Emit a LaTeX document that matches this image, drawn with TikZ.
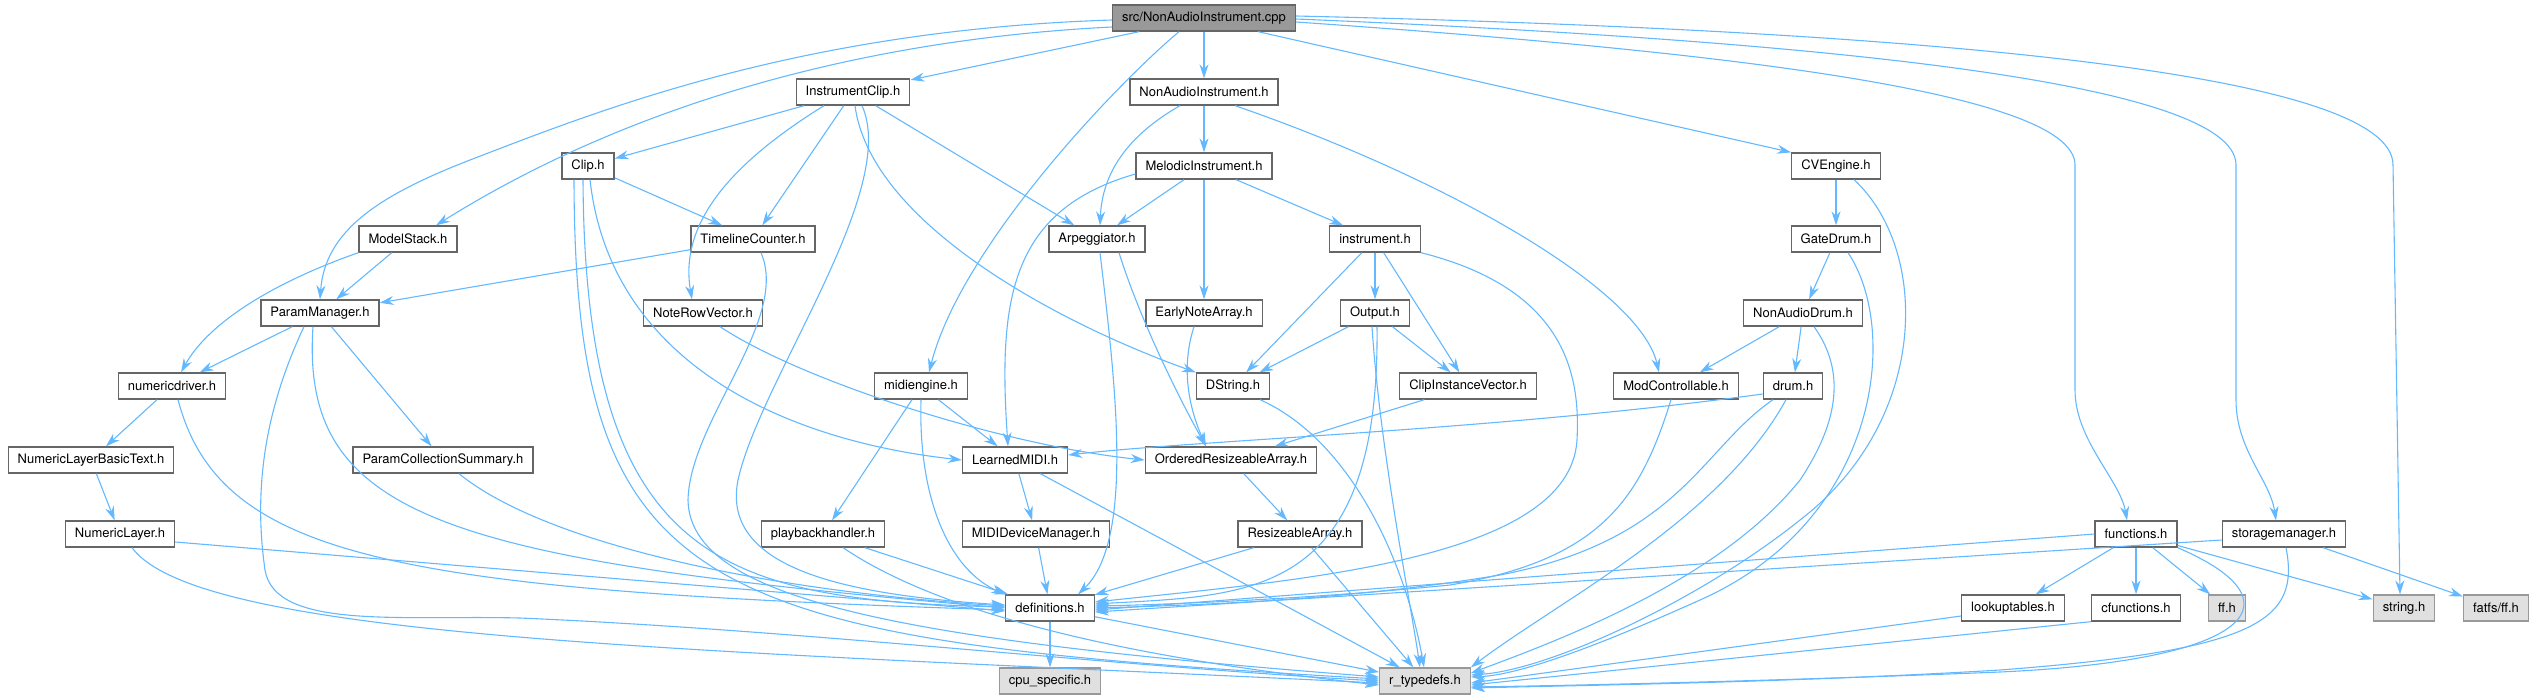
\documentclass[tikz,border=0pt]{standalone}
\usepackage{fontspec}
\setmainfont{TeX Gyre Heros}
\usetikzlibrary{arrows.meta}
\definecolor{depblue}{HTML}{63B8FF}
\definecolor{boxline}{HTML}{666666}
\definecolor{rootfill}{HTML}{999999}
\definecolor{extline}{HTML}{999999}
\definecolor{extfill}{HTML}{E0E0E0}
\begin{document}
\begin{tikzpicture}[
    x=1pt, y=-1pt,
    >={Stealth[length=14pt,width=9pt]},
    box/.style={
        draw=boxline,
        fill=white,
        line width=1.3pt,
        minimum height=26pt,
        inner xsep=9.5pt,
        inner ysep=0pt,
        font=\fontsize{13}{15}\selectfont
    },
    root/.style={box, fill=rootfill},
    ext/.style={box, draw=extline, fill=extfill},
    dep/.style={->, draw=depblue, line width=1.1pt}
]

\useasboundingbox (0,0) rectangle (2537,699);

\node[root] (src) at (1204,18) {src/NonAudioInstrument.cpp};

\node[box] (iclip) at (853,92) {InstrumentClip.h};
\node[box] (nai) at (1204,92) {NonAudioInstrument.h};

\node[box] (clip) at (588,166) {Clip.h};
\node[box] (melodic) at (1204,166) {MelodicInstrument.h};
\node[box] (cveng) at (1836,166) {CVEngine.h};

\node[box] (mstack) at (408,239) {ModelStack.h};
\node[box] (tcount) at (753,239) {TimelineCounter.h};
\node[box] (arp) at (1097,239) {Arpeggiator.h};
\node[box] (instr) at (1375,239) {instrument.h};
\node[box] (gdrum) at (1836,239) {GateDrum.h};

\node[box] (pman) at (320,313) {ParamManager.h};
\node[box] (nrvec) at (703,313) {NoteRowVector.h};
\node[box] (enarr) at (1204,313) {EarlyNoteArray.h};
\node[box] (output) at (1375,313) {Output.h};
\node[box] (nadrum) at (1803,313) {NonAudioDrum.h};

\node[box] (ndrv) at (172,386) {numericdriver.h};
\node[box] (midieng) at (921,386) {midiengine.h};
\node[box] (dstr) at (1233,386) {DString.h};
\node[box] (civec) at (1468,386) {ClipInstanceVector.h};
\node[box] (modctl) at (1676,386) {ModControllable.h};
\node[box] (drum) at (1793,386) {drum.h};

\node[box] (nlbt) at (91,460) {NumericLayerBasicText.h};
\node[box] (pcsum) at (443,460) {ParamCollectionSummary.h};
\node[box] (lmidi) at (1015,460) {LearnedMIDI.h};
\node[box] (ora) at (1231,460) {OrderedResizeableArray.h};

\node[box] (nlayer) at (120,534) {NumericLayer.h};
\node[box] (pback) at (823,534) {playbackhandler.h};
\node[box] (mdm) at (1036,534) {MIDIDeviceManager.h};
\node[box] (rarr) at (1300,534) {ResizeableArray.h};
\node[box] (funcs) at (2136,534) {functions.h};
\node[box] (storage) at (2284,534) {storagemanager.h};

\node[box] (defs) at (1050,608) {definitions.h};
\node[box] (lookup) at (2013,608) {lookuptables.h};
\node[box] (cfuncs) at (2136,608) {cfunctions.h};
\node[ext] (ffh) at (2227,608) {ff.h};
\node[ext] (strh) at (2404,608) {string.h};
\node[ext] (fatfs) at (2496,608) {fatfs/ff.h};

\node[ext] (cpu) at (1050,681) {cpu\_specific.h};
\node[ext] (rtypes) at (1425,681) {r\_typedefs.h};

\draw[dep] (src) -- (iclip);
\draw[dep] (src) -- (nai);
\draw[dep] ([yshift=-2pt]src.west) .. controls (800,30) and (600,110) .. (470,160)
    .. controls (380,195) and (325,230) .. (pman.north);
\draw[dep] ([yshift=-9pt]src.west) .. controls (850,40) and (620,110) .. ([xshift=28pt]mstack.north);
\draw[dep] ([xshift=-25pt]src.south) .. controls (1110,90) and (960,250) .. ([xshift=8pt]midieng.north);
\draw[dep] ([xshift=54pt]src.south) -- (cveng.north west);
\draw[dep] ([yshift=-4pt]src.east) .. controls (1700,50) and (2075,90) .. (2075,165)
    -- (2075,390) .. controls (2075,440) and (2120,480) .. ([xshift=-9pt]funcs.north);
\draw[dep] ([yshift=-1pt]src.east) .. controls (1800,40) and (2236,80) .. (2236,165)
    -- (2236,400) .. controls (2236,450) and (2270,480) .. ([xshift=-8pt]storage.north);
\draw[dep] ([yshift=2pt]src.east) .. controls (1900,30) and (2393,70) .. (2393,165)
    -- ([xshift=-4pt]strh.north);

\draw[dep] (iclip) -- (clip);
\draw[dep] (iclip) -- (tcount);
\draw[dep] (iclip) -- (arp);
\draw[dep] ([xshift=-29pt]iclip.south) .. controls (720,170) and (680,230) .. ([xshift=-11pt]nrvec.north);
\draw[dep] ([xshift=9pt]iclip.south) .. controls (900,190) and (760,380) .. (738,480)
    .. controls (720,570) and (850,595) .. ([yshift=3pt]defs.west);
\draw[dep] ([xshift=2pt]iclip.south) .. controls (870,220) and (1050,320) .. (dstr.north west);

\draw[dep] (clip) -- (tcount);
\draw[dep] ([xshift=2pt]clip.south) .. controls (610,360) and (780,440) .. (lmidi.west);
\draw[dep] ([xshift=-5pt]clip.south) .. controls (585,560) and (720,600) .. ([yshift=1pt]defs.west);
\draw[dep] ([xshift=-14pt]clip.south) .. controls (575,600) and (700,640) .. ([yshift=2pt]rtypes.west);

\draw[dep] (mstack) -- (pman);
\draw[dep] (mstack.south west) .. controls (280,280) and (210,320) .. ([xshift=9pt]ndrv.north);

\draw[dep] (tcount) -- (pman);
\draw[dep] ([xshift=8pt]tcount.south) .. controls (790,320) and (690,420) .. (688,500)
    .. controls (690,600) and (900,640) .. ([yshift=4pt]rtypes.west);

\draw[dep] (pman) -- (ndrv);
\draw[dep] (pman) -- (pcsum);
\draw[dep] ([xshift=-7pt]pman.south) .. controls (300,520) and (450,560) .. (defs.west);
\draw[dep] ([xshift=-16pt]pman.south) .. controls (260,420) and (255,500) .. (265,570)
    .. controls (275,630) and (400,615) .. (520,618)
    .. controls (800,630) and (1100,665) .. (rtypes.west);

\draw[dep] (ndrv) -- (nlbt);
\draw[dep] ([xshift=6pt]ndrv.south) .. controls (220,560) and (400,590) .. ([yshift=-2pt]defs.west);
\draw[dep] (nlbt) -- (nlayer);
\draw[dep] ([yshift=-8pt]nlayer.east) -- ([yshift=-3pt]defs.west);
\draw[dep] ([xshift=12pt]nlayer.south) .. controls (200,640) and (700,650) .. ([yshift=-2pt]rtypes.west);
\draw[dep] ([xshift=16pt]pcsum.south) .. controls (540,540) and (750,590) .. ([yshift=2pt]defs.west);
\draw[dep] ([xshift=17pt]nrvec.south) .. controls (800,380) and (1000,445) .. (ora.west);

\draw[dep] (midieng) -- (lmidi);
\draw[dep] (midieng) -- (pback);
\draw[dep] (midieng.south) .. controls (918,500) and (950,570) .. (defs.north west);
\draw[dep] (pback) -- (defs);
\draw[dep] ([xshift=20pt]pback.south) .. controls (950,620) and (1150,660) .. ([yshift=-4pt]rtypes.west);

\draw[dep] (nai) -- (melodic);
\draw[dep] ([xshift=-24pt]nai.south) .. controls (1120,140) and (1102,180) .. ([xshift=3pt]arp.north);
\draw[dep] ([xshift=31pt]nai.south) .. controls (1450,180) and (1640,290) .. ([xshift=-17pt]modctl.north);

\draw[dep] (melodic) -- (arp);
\draw[dep] (melodic) -- (enarr);
\draw[dep] (melodic) -- (instr);
\draw[dep] ([yshift=-8pt]melodic.west) .. controls (1010,210) and (998,300) .. ([xshift=-7pt]lmidi.north);

\draw[dep] ([xshift=3pt]arp.south) .. controls (1115,380) and (1135,540) .. ([xshift=28pt]defs.north);
\draw[dep] ([xshift=22pt]arp.south) .. controls (1140,320) and (1180,400) .. ([xshift=-25pt]ora.north);
\draw[dep] ([xshift=-10pt]enarr.south) .. controls (1180,370) and (1190,410) .. ([xshift=-25pt]ora.north);

\draw[dep] (instr) -- (dstr);
\draw[dep] (instr) -- (output);
\draw[dep] (instr) -- (civec);
\draw[dep] (instr.south east) .. controls (1570,290) and (1580,380) .. (1577,440)
    .. controls (1570,560) and (1300,580) .. ([yshift=6pt]defs.east);

\draw[dep] (output) -- (dstr);
\draw[dep] (output) -- (civec);
\draw[dep] ([xshift=2pt]output.south) .. controls (1380,600) and (1250,595) .. ([yshift=4pt]defs.east);
\draw[dep] ([xshift=-3pt]output.south) .. controls (1380,450) and (1410,600) .. ([xshift=-5pt]rtypes.north);
\draw[dep] ([xshift=27pt]dstr.south) .. controls (1350,440) and (1405,560) .. ([xshift=-1pt]rtypes.north);
\draw[dep] (civec) -- (ora);
\draw[dep] ([xshift=-5pt]modctl.south) .. controls (1640,500) and (1600,560) .. (1450,585)
    .. controls (1300,600) and (1150,605) .. ([yshift=2pt]defs.east);

\draw[dep] (lmidi) -- (mdm);
\draw[dep] (lmidi) -- (rtypes);
\draw[dep] (ora) -- (rarr);
\draw[dep] (rarr) -- (defs);
\draw[dep] (rarr) -- (rtypes);
\draw[dep] (mdm) -- (defs);
\draw[dep] (defs) -- (cpu);
\draw[dep] (defs) -- (rtypes);

\draw[dep] (cveng) -- (gdrum);
\draw[dep] ([xshift=18pt]cveng.south) .. controls (1930,250) and (1930,420) .. (1800,520)
    .. controls (1700,600) and (1550,670) .. ([yshift=6pt]rtypes.east);
\draw[dep] (gdrum) -- (nadrum);
\draw[dep] ([xshift=12pt]gdrum.south) .. controls (1900,330) and (1880,520) .. (1700,600)
    .. controls (1600,645) and (1520,675) .. ([yshift=4pt]rtypes.east);
\draw[dep] (nadrum) -- (modctl);
\draw[dep] (nadrum) -- (drum);
\draw[dep] ([xshift=11pt]nadrum.south) .. controls (1845,370) and (1840,420) .. (1800,480)
    .. controls (1720,580) and (1560,640) .. ([yshift=8pt]rtypes.east);

\draw[dep] ([yshift=-8pt]drum.west) .. controls (1500,430) and (1200,440) .. ([yshift=5pt]lmidi.east);
\draw[dep] ([xshift=-20pt]drum.south) .. controls (1700,450) and (1680,540) .. (1500,575)
    .. controls (1350,600) and (1200,605) .. (defs.east);
\draw[dep] ([xshift=-7pt]drum.south) .. controls (1720,520) and (1560,600) .. (rtypes.north east);

\draw[dep] (funcs.west) -- ([yshift=-2pt]defs.east);
\draw[dep] (funcs) -- (lookup);
\draw[dep] (funcs) -- (cfuncs);
\draw[dep] (funcs) -- (ffh);
\draw[dep] (funcs) -- (strh);
\draw[dep] (funcs.south east) .. controls (2300,600) and (2260,660) .. (2000,672)
    .. controls (1800,680) and (1600,685) .. ([yshift=-6pt]rtypes.east);

\draw[dep] ([yshift=-6pt]storage.west) -- ([yshift=-4pt]defs.east);
\draw[dep] (storage) -- (fatfs);
\draw[dep] ([xshift=2pt]storage.south) .. controls (2300,620) and (2260,650) .. (2000,670)
    .. controls (1800,682) and (1600,685) .. ([yshift=-7pt]rtypes.east);

\draw[dep] ([yshift=-8pt]lookup.west) -- ([yshift=-2pt]rtypes.east);
\draw[dep] (cfuncs.south west) -- ([yshift=-4pt]rtypes.east);

\end{tikzpicture}
\end{document}
